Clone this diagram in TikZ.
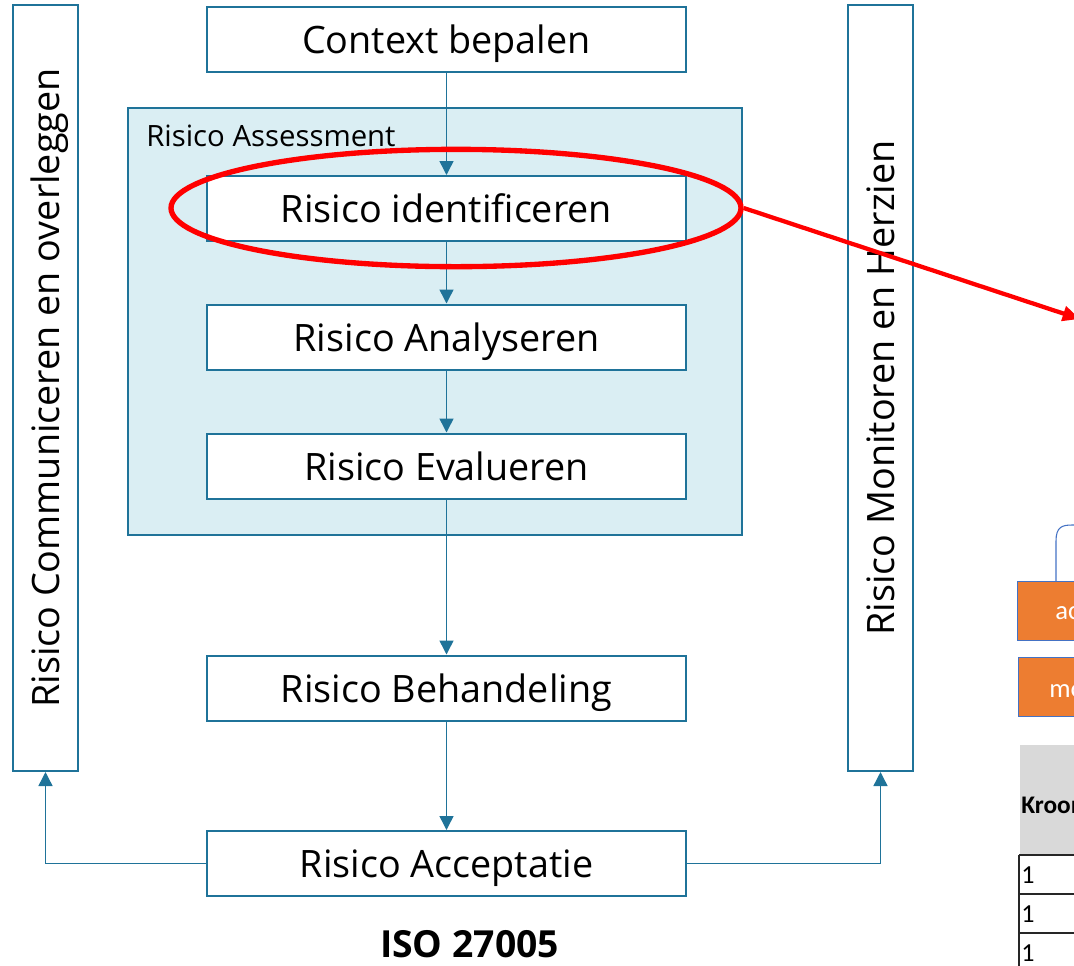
\documentclass[tikz,border=0pt]{standalone}
\usepackage{fontspec}
\setmainfont{Open Sans}
\newfontfamily\calib{Carlito}
\usetikzlibrary{shapes.geometric,arrows.meta}
\definecolor{isoblue}{HTML}{1F7399}
\definecolor{aslight}{HTML}{DAEEF3}
\definecolor{fragorange}{HTML}{ED7D31}
\definecolor{fragborder}{HTML}{4472C4}
\definecolor{tblgray}{HTML}{D9D9D9}
\begin{document}
\begin{tikzpicture}[x=0.75pt,y=-0.75pt,
  box/.style={draw=isoblue, fill=white, line width=1.5pt, inner sep=0pt,
    minimum width=359.25pt, minimum height=48.75pt, text=black,
    text height=21pt, text depth=0pt,
    font=\fontsize{28.3}{33}\selectfont},
  vbox/.style={box, minimum width=574.5pt, rotate=90},
  flow/.style={draw=isoblue, line width=1.1pt, -{Triangle[length=10.5pt,width=10.5pt]}},
  frag/.style={draw=fragborder, fill=fragorange, line width=0.8pt, anchor=north west,
    minimum width=90pt, minimum height=44pt, inner sep=0pt},
  fragtext/.style={anchor=base west, inner sep=0pt, text=white, font=\calib\fontsize{20}{24}\selectfont},
  celltext/.style={anchor=base west, inner sep=0pt, font=\calib\fontsize{19.5}{22}\selectfont}
]
\useasboundingbox (0,0) rectangle (1074,965);
\clip (0,0) rectangle (1074,965);

% container
\node[draw=isoblue, fill=aslight, line width=1.5pt, inner sep=0pt,
  minimum width=460.5pt, minimum height=320.25pt] (ra) at (435,321.5) {};
\node[anchor=base west, inner sep=0pt, font=\fontsize{22}{26}\selectfont] (ral) at (146,146) {Risico Assessment};

% boxes
\node[box] (ctx) at (446.5,39) {Context bepalen};
\node[box] (ident) at (446.5,208.5) {Risico identificeren};
\node[box] (anal) at (446.5,337) {Risico Analyseren};
\node[box] (eval) at (446.5,466) {Risico Evalueren};
\node[box] (beh) at (446.5,688) {Risico Behandeling};
\node[box] (acc) at (446.5,863.5) {Risico Acceptatie};

\node[vbox] (comm) at (45.5,388) {Risico Communiceren en overleggen};
\node[vbox] (mon) at (880.5,388) {Risico Monitoren en Herzien};

% connectors
\draw[flow] (ctx.south) -- (ident.north);
\draw[flow] (ident.south) -- (anal.north);
\draw[flow] (anal.south) -- (eval.north);
\draw[flow] (eval.south) -- (beh.north);
\draw[flow] (beh.south) -- (acc.north);
\draw[flow] (acc.west) -| (comm.west);
\draw[flow] (acc.east) -| (mon.west);

\node[anchor=base, inner sep=0pt, font=\bfseries\fontsize{28}{32}\selectfont] (iso) at (469.5,957) {ISO 27005};

% right side fragments
\node[frag] (ob1) at (1017,581) {};
\node[fragtext] (ob1t) at (1055,619) {ac};
\node[frag] (ob2) at (1018,657) {};
\node[fragtext] (ob2t) at (1049,697) {mo};
\coordinate (cv) at (1100,525);
\draw[fragborder, line width=0.8pt] (ob1.north west) ++(39,0) -- ++(0,-40)
  .. controls +(0,-14) and +(-10,0) .. (1072,525) -- (cv);

\node[fill=tblgray, anchor=north west, minimum width=60pt, minimum height=82.5pt, inner sep=0pt] (th) at (1020,745) {};
\node[anchor=base west, inner sep=0pt, font=\calib\bfseries\fontsize{19}{22}\selectfont] (thk) at (1021,813) {Kroon};
\draw[black!85, line width=1pt] (1019,855) -- (1100,855) (1019,894) -- (1100,894) (1019,933) -- (1100,933) (1019,855) -- (1019,970);
\node[celltext] (r1) at (1021,883) {1};
\node[celltext] (r2) at (1021,922) {1};
\node[celltext] (r3) at (1021,961) {1};

% red highlight
\node[draw=red, line width=4pt, ellipse, inner sep=0pt,
  minimum width=427.5pt, minimum height=88pt] (hl) at (456,208) {};
\coordinate (tgt) at (1080,319);
\draw[red, line width=3.2pt, -{Triangle[length=13pt,width=11pt]}] (hl.east) -- (tgt);
\end{tikzpicture}
\end{document}
